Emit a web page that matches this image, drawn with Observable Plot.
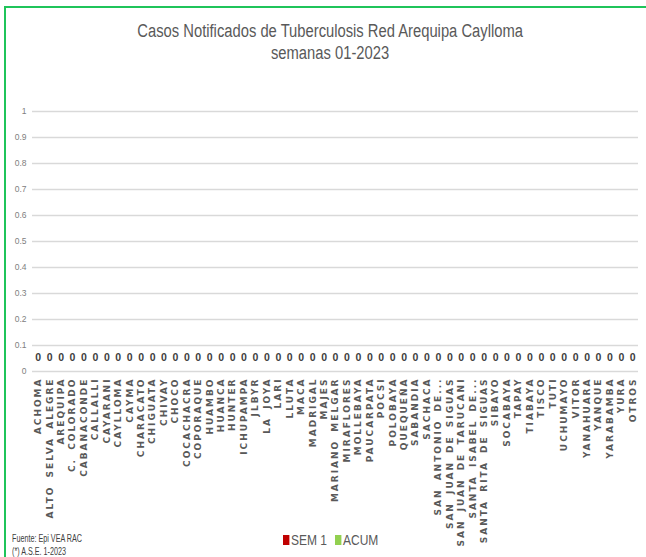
<!DOCTYPE html>
<html><head><meta charset="utf-8">
<script src="https://cdn.jsdelivr.net/npm/d3@7"></script>
<script src="https://cdn.jsdelivr.net/npm/@observablehq/plot@0.6"></script>
<style>
body{margin:0;background:#fff;}
#wrap{position:relative;width:646px;height:557px;overflow:hidden;background:#fff;}
#frame{position:absolute;left:4px;top:6px;width:700px;height:600px;border-left:2px solid #1fc45a;border-top:2px solid #1fc45a;box-sizing:border-box;}
#title{position:absolute;left:0;top:20px;width:660px;text-align:center;font-family:"Liberation Sans",sans-serif;font-size:18px;line-height:22px;color:#595959;}
#title span{display:inline-block;transform:scaleX(0.82);transform-origin:center;white-space:nowrap;}
#chart{position:absolute;left:0;top:90px;}
#fuente{position:absolute;left:12px;top:533px;font-family:"Liberation Sans",sans-serif;font-size:10px;line-height:12.5px;color:#404040;transform:scaleX(0.72);transform-origin:left top;white-space:nowrap;}
#legend{position:absolute;left:283px;top:531px;font-family:"Liberation Sans",sans-serif;font-size:15px;color:#595959;display:flex;align-items:center;transform:scaleX(0.8);transform-origin:left center;white-space:nowrap;}
#legend .sw{display:inline-block;width:8px;height:10px;margin-right:2px;}
#legend .it{display:flex;align-items:center;margin-right:10px;}
#chart g[aria-label="x-axis tick label"] text{letter-spacing:2px;word-spacing:3px;}
</style></head>
<body>
<div id="wrap">
<div id="frame"></div>
<div id="title"><span>Casos Notificados de Tuberculosis Red Arequipa Caylloma</span><br><span>semanas 01-2023</span></div>
<div id="chart"></div>
<div id="fuente">Fuente: Epi VEA RAC<br>(*) A.S.E. 1-2023</div>
<div id="legend"></div>
</div>
<script>
const municipios = ["ACHOMA","ALTO SELVA ALEGRE","AREQUIPA","C. COLORADO","CABANACONDE","CALLALLI","CAYARANI","CAYLLOMA","CAYMA","CHARACATO","CHIGUATA","CHIVAY","CHOCO","COCACHACRA","COPORAQUE","HUAMBO","HUANCA","HUNTER","ICHUPAMPA","JLBYR","LA JOYA","LARI","LLUTA","MACA","MADRIGAL","MAJES","MARIANO MELGAR","MIRAFLORES","MOLLEBAYA","PAUCARPATA","POCSI","POLOBAYA","QUEQUEÑA","SABANDIA","SACHACA","SAN ANTONIO DE...","SAN JUAN DE SIGUAS","SAN JUAN DE TARUCANI","SANTA ISABEL DE...","SANTA RITA DE SIGUAS","SIBAYO","SOCABAYA","TAPAY","TIABAYA","TISCO","TUTI","UCHUMAYO","VITOR","YANAHUARA","YANQUE","YARABAMBA","YURA","OTROS"];
const sem1 = [0,0,0,0,0,0,0,0,0,0,0,0,0,0,0,0,0,0,0,0,0,0,0,0,0,0,0,0,0,0,0,0,0,0,0,0,0,0,0,0,0,0,0,0,0,0,0,0,0,0,0,0,0];
const acum = [0,0,0,0,0,0,0,0,0,0,0,0,0,0,0,0,0,0,0,0,0,0,0,0,0,0,0,0,0,0,0,0,0,0,0,0,0,0,0,0,0,0,0,0,0,0,0,0,0,0,0,0,0];
const yTicks = [0,0.1,0.2,0.3,0.4,0.5,0.6,0.7,0.8,0.9,1];
const series = ["SEM 1","ACUM"];
const seriesColors = ["#c00000","#92d050"];

const data = municipios.map((m,i)=>({m, sem1: sem1[i], acum: acum[i]}));
const fmt = d => String(+d.toFixed(1));

const chart = Plot.plot({
  width: 646, height: 445,
  marginTop: 21, marginBottom: 164, marginLeft: 32, marginRight: 8,
  style: {background: "transparent", overflow: "visible"},
  x: {domain: municipios, padding: 0, round: false},
  y: {domain: [0, 1]},
  marks: [
    Plot.ruleY(yTicks, {stroke: "#d9d9d9", strokeWidth: 1.5}),
    Plot.barY(data, {x: "m", y: "sem1", fill: seriesColors[0], insetLeft: 1, insetRight: 5.7}),
    Plot.barY(data, {x: "m", y: "acum", fill: seriesColors[1], insetLeft: 5.7, insetRight: 1}),
    Plot.text(data, {x: "m", y: "acum", text: d => String(d.acum), dy: -14, fontWeight: "bold", fontSize: 10.5, fill: "#404040", fontFamily: "Liberation Sans, sans-serif"}),
    Plot.axisY({ticks: yTicks, tickFormat: fmt, tickSize: 0, tickPadding: 6, label: null, fontSize: 8.5, fill: "#808080", fontFamily: "Liberation Sans, sans-serif"}),
    Plot.axisX({tickRotate: -90, tickSize: 0, tickPadding: 6, label: null, fontSize: 9, fontWeight: "bold", fill: "#595959", fontFamily: "DejaVu Sans, sans-serif"})
  ]
});
document.getElementById("chart").appendChild(chart);

const lg = document.getElementById("legend");
series.forEach((s,i)=>{
  const it = document.createElement("span"); it.className = "it";
  const sw = document.createElement("span"); sw.className = "sw"; sw.style.background = seriesColors[i];
  it.appendChild(sw); it.appendChild(document.createTextNode(s)); lg.appendChild(it);
});
</script>
</body></html>
